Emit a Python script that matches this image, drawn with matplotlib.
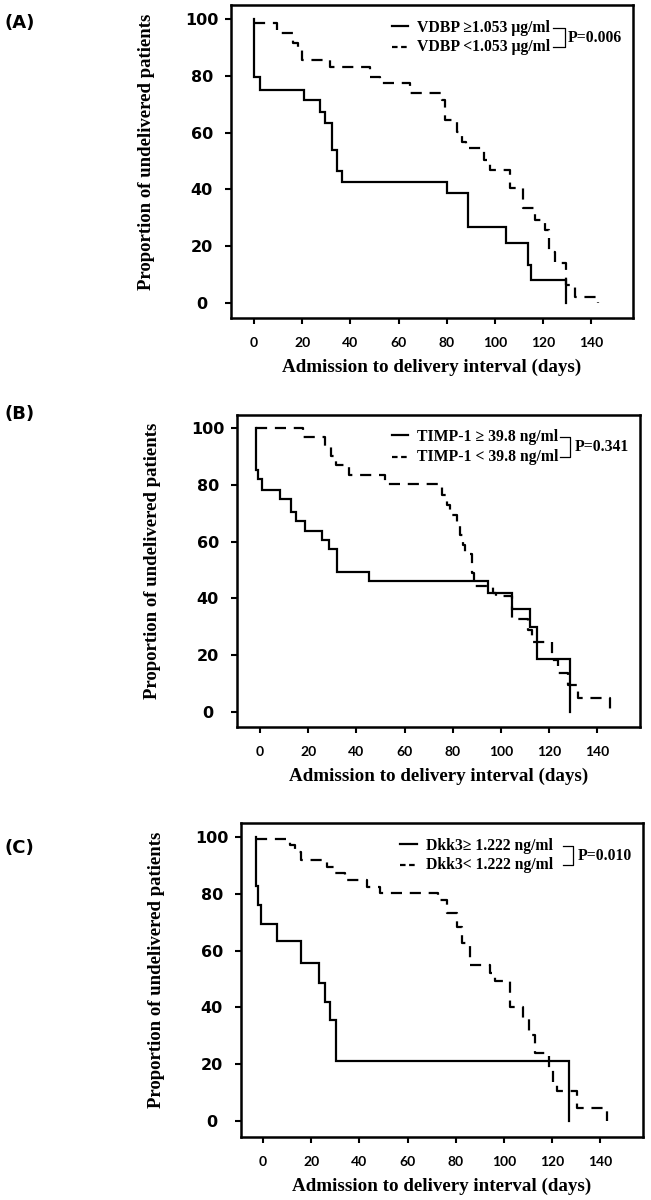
import matplotlib
matplotlib.use("Agg")
import matplotlib.pyplot as plt

# ---------------- data ----------------
xticks = [0, 20, 40, 60, 80, 100, 120, 140]
yticks = [0, 20, 40, 60, 80, 100]

# Panel A : VDBP
a_hi_days = [0, 0, 2.5, 20.7, 27.4, 29.7, 32.2, 32.6, 34.3, 36.6, 80.0, 89.0, 104.6, 113.8, 114.8, 129.7]
a_hi_surv = [100, 79.4, 75.0, 71.4, 67.3, 63.4, 59.7, 54.0, 46.5, 42.6, 38.8, 26.9, 21.2, 13.4, 8.1, 0]
a_lo_days = [0, 9.4, 16.3, 18.4, 19.8, 31.5, 48.1, 52.2, 64.7, 77.9, 79.3, 84.1, 86.2, 87.8, 95.4,
             97.9, 106.2, 111.7, 116.6, 120.7, 122.5, 124.9, 129.7, 133.2, 142.9]
a_lo_surv = [98.7, 95.2, 91.4, 89.0, 85.6, 83.2, 79.7, 77.6, 73.8, 71.5, 64.4, 60.3, 56.8, 54.5, 50.4,
             46.8, 40.6, 33.3, 29.2, 25.6, 18.0, 14.0, 6.3, 2.2, 0]

# Panel B : TIMP-1
b_hi_days = [-1.5, -1.5, -0.7, 0.7, 8.3, 13.1, 14.9, 18.7, 25.6, 28.8, 32.1, 45.4, 94.7, 104.4, 112.0, 114.9, 128.6]
b_hi_surv = [100, 85.3, 81.9, 78.2, 75.0, 70.5, 67.3, 63.8, 60.6, 57.3, 49.4, 46.1, 41.8, 36.2, 30.0, 18.7, 0]
b_lo_days = [-1.5, 18.0, 27.0, 29.7, 31.5, 37.1, 51.9, 75.4, 77.5, 78.8, 81.6, 83.0, 84.4, 85.1, 88.2, 88.8,
             96.8, 98.0, 104.4, 111.3, 112.7, 121.0, 123.7, 127.8, 132.0, 145.2]
b_lo_surv = [100, 96.7, 93.4, 90.1, 87.0, 83.5, 80.3, 76.4, 72.9, 69.4, 65.8, 62.3, 58.8, 55.6, 48.8, 44.4,
             42.0, 40.8, 32.6, 28.9, 24.8, 18.3, 13.6, 9.5, 4.9, 0]

# Panel C : Dkk3
c_hi_days = [-2.9, -2.9, -1.9, -0.6, 6.0, 16.0, 23.4, 25.7, 27.8, 30.2, 127.1]
c_hi_surv = [100, 82.7, 76.1, 69.4, 63.5, 55.5, 48.7, 42.0, 35.6, 21.1, 0]
c_lo_days = [-2.9, 11.2, 13.3, 15.6, 26.4, 29.5, 34.0, 43.0, 48.5, 72.7, 76.2, 80.4, 82.4, 85.9, 94.2,
             96.3, 102.5, 108.0, 110.5, 112.9, 118.5, 120.5, 122.0, 130.3, 142.7]
c_lo_surv = [99.2, 97.0, 94.8, 91.9, 89.3, 87.4, 84.9, 82.3, 80.2, 77.8, 73.1, 68.4, 62.6, 54.9, 52.0,
             49.3, 40.3, 36.2, 30.3, 23.8, 17.9, 13.7, 10.6, 4.6, 0]

panel_letters = ["(A)", "(B)", "(C)"]
legend_hi = ["VDBP \u22651.053 \u03bcg/ml", "TIMP-1 \u2265 39.8 ng/ml", "Dkk3\u2265 1.222 ng/ml"]
legend_lo = ["VDBP <1.053 \u03bcg/ml", "TIMP-1 < 39.8 ng/ml", "Dkk3< 1.222 ng/ml"]
p_values = ["P=0.006", "P=0.341", "P=0.010"]
xlabel = "Admission to delivery interval (days)"
ylabel = "Proportion of undelivered patients"

# ---------------- layout ----------------
W, H = 651, 1200
fig = plt.figure(figsize=(W / 100, H / 100), dpi=100)

rects = [  # left, top, right, bottom in pixels
    (231, 5, 633, 318),
    (237, 415, 640, 727),
    (241, 823, 643, 1137),
]
xlims = [(-9.5, 157.3), (-9.5, 157.7), (-9.1, 157.7)]
ylims = [(-5.3, 104.9), (-5.3, 104.6), (-5.6, 104.9)]
letter_y = [23, 414, 848]
leg_cfg = [  # sample x0,x1, text x, bracket x0,x1, p x
    (57.3, 63.9, 67.6, 124.1, 129.0, 130.3),
    (54.8, 61.4, 65.1, 124.5, 128.6, 130.7),
    (56.8, 63.9, 67.6, 124.5, 128.6, 130.7),
]
row_y = [(96.8, 90.0), (96.8, 89.8), (96.8, 90.1)]

data = [
    (a_hi_days, a_hi_surv, a_lo_days, a_lo_surv),
    (b_hi_days, b_hi_surv, b_lo_days, b_lo_surv),
    (c_hi_days, c_hi_surv, c_lo_days, c_lo_surv),
]

serif = ["Liberation Serif", "DejaVu Serif"]
dash = (0, (5, 3.5))

for i in range(3):
    l, t, r, b = rects[i]
    ax = fig.add_axes([l / W, 1 - b / H, (r - l) / W, (b - t) / H])
    hd, hs, ld, ls = data[i]
    ax.step(hd, hs, where="post", color="black", lw=1.6, solid_joinstyle="miter")
    ax.step(ld, ls, where="post", color="black", lw=1.6, linestyle=dash)
    ax.set_xlim(*xlims[i])
    ax.set_ylim(*ylims[i])
    ax.set_xticks(xticks)
    ax.set_yticks(yticks)
    ax.set_xticklabels([str(v) for v in xticks], family="Lato", fontweight="bold", fontsize=10)
    ax.set_yticklabels([str(v) for v in yticks], family="DejaVu Sans", fontweight="bold", fontsize=11.5)
    for lbl in ax.get_yticklabels():
        lbl.set_ha("center")
    ax.tick_params(axis="y", length=4, width=1.5, pad=17)
    ax.tick_params(axis="x", length=4, width=1.5, pad=10)
    for s in ax.spines.values():
        s.set_linewidth(1.8)

    ax.text(0.5, -0.172, xlabel, transform=ax.transAxes, ha="center", va="baseline",
            family=serif, fontweight="bold", fontsize=13.7)
    ax.text(-0.209, 0.532, ylabel, transform=ax.transAxes, ha="center", va="center",
            rotation=90, family=serif, fontweight="bold", fontsize=13.5)

    # legend
    sx0, sx1, tx, bx0, bx1, px = leg_cfg[i]
    y1, y2 = row_y[i]
    ax.plot([sx0, sx1], [y1 + 0.8, y1 + 0.8], color="black", lw=1.6, clip_on=False)
    ax.plot([sx0, sx1], [y2, y2], color="black", lw=1.6, linestyle=(0, (2.5, 1.6)), clip_on=False)
    ax.text(tx, y1, legend_hi[i], ha="left", va="center", family=serif, fontweight="bold", fontsize=11.3)
    ax.text(tx, y2, legend_lo[i], ha="left", va="center", family=serif, fontweight="bold", fontsize=11.3)
    ax.plot([bx0, bx1, bx1, bx0], [y1, y1, y2, y2], color="black", lw=0.9, clip_on=False)
    ax.text(px, (y1 + y2) / 2, p_values[i], ha="left", va="center", family=serif,
            fontweight="bold", fontsize=11.3)

    fig.text(5 / W, 1 - letter_y[i] / H, panel_letters[i], ha="left", va="center",
             family="DejaVu Sans", fontweight="bold", fontsize=13)

fig.savefig("out.png", dpi=100, facecolor="white")
